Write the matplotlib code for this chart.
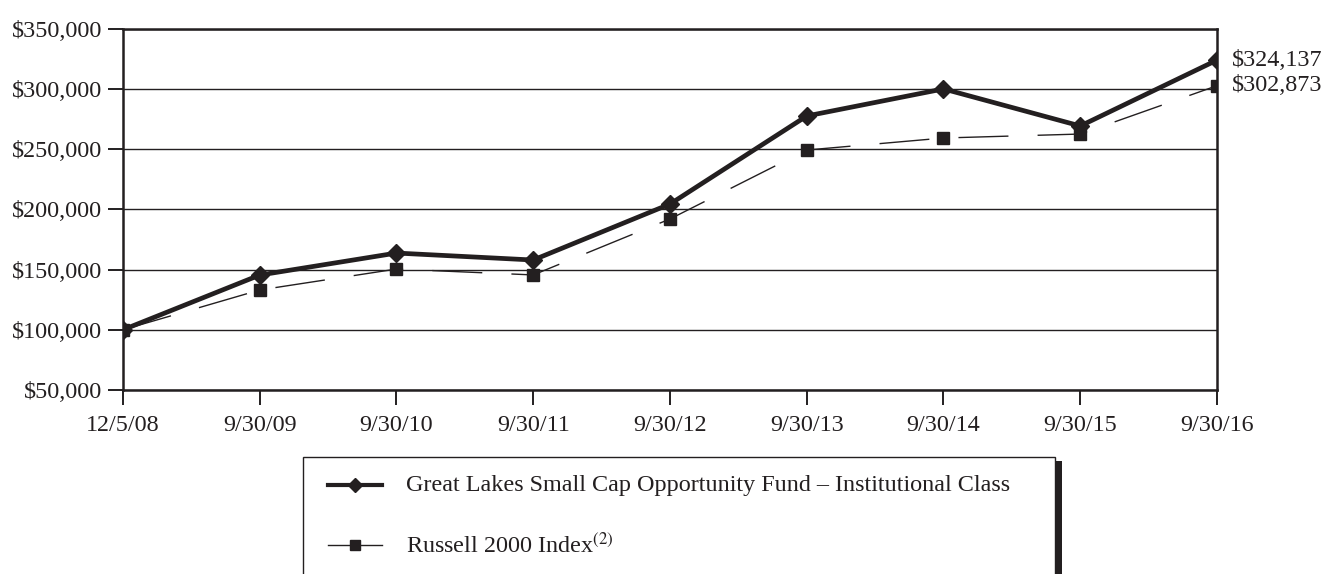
import matplotlib
matplotlib.use("Agg")
import matplotlib.pyplot as plt
from matplotlib.lines import Line2D
from matplotlib.patches import Rectangle
from matplotlib.ticker import FuncFormatter

plt.rcParams['font.family'] = ['Liberation Serif', 'DejaVu Serif']
plt.rcParams['mathtext.fontset'] = 'stix'

dates = ["12/5/08", "9/30/09", "9/30/10", "9/30/11", "9/30/12",
         "9/30/13", "9/30/14", "9/30/15", "9/30/16"]
fund = [100000, 145500, 163800, 158000, 204500, 277700, 300200, 269400, 324137]
russell = [100000, 133100, 150500, 145600, 192100, 249400, 259400, 262700, 302873]
fund_name = "Great Lakes Small Cap Opportunity Fund \u2013 Institutional Class"
index_name = r"Russell 2000 Index$^{(2)}$"

DARK = "#231f20"
FS = 17.4

fig = plt.figure(figsize=(13.25, 5.74), dpi=100)
ax = fig.add_axes([0.0928, 0.3206, 0.8257, 0.6289])

x = list(range(len(dates)))
ax.plot(x, russell, color=DARK, lw=1.0, dashes=(36, 21),
        marker="s", ms=8.5, zorder=3)
ax.plot(x, fund, color=DARK, lw=3.4, marker="D", ms=9, zorder=4)

ax.set_xlim(0, len(dates) - 1)
ax.set_ylim(50000, 350000)
ax.set_yticks(range(50000, 350001, 50000))
ax.yaxis.set_major_formatter(FuncFormatter(lambda v, p: "${:,.0f}".format(v)))
ax.set_xticks(x)
ax.set_xticklabels(dates)
ax.grid(axis="y", color=DARK, lw=1.0)
ax.set_axisbelow(True)
for s in ax.spines.values():
    s.set_color(DARK)
    s.set_linewidth(1.8)
ax.tick_params(axis="both", direction="out", length=11, width=1.4,
               color=DARK, labelsize=FS, labelcolor=DARK)
ax.tick_params(axis="x", pad=7)
ax.tick_params(axis="y", pad=4)

# end values at the right edge
ax.annotate("${:,}".format(fund[-1]), (x[-1], fund[-1]), xytext=(11, 0),
            textcoords="offset points", va="center", ha="left",
            fontsize=FS, color=DARK, annotation_clip=False)
ax.annotate("${:,}".format(russell[-1]), (x[-1], russell[-1]), xytext=(11, 0),
            textcoords="offset points", va="center", ha="left",
            fontsize=FS, color=DARK, annotation_clip=False)

# legend box below the chart, with a heavy shadow edge on the right
W, H = 1325.0, 574.0
box = Rectangle((303 / W, -0.1), (1055 - 303) / W, 0.1 + 1 - 457 / H,
                transform=fig.transFigure, fill=False, ec=DARK, lw=1.0)
fig.add_artist(box)
shadow = Rectangle((1055 / W, -0.1), 7 / W, 0.1 + 1 - 461 / H,
                   transform=fig.transFigure, fc=DARK, ec="none")
fig.add_artist(shadow)

y1 = 1 - 485 / H
y2 = 1 - 545 / H
fig.add_artist(Line2D([328 / W, 382 / W], [y1, y1], color=DARK, lw=3.0,
                      transform=fig.transFigure))
fig.add_artist(Line2D([355 / W], [y1], color=DARK, marker="D", ms=7,
                      transform=fig.transFigure))
fig.add_artist(Line2D([328 / W, 382 / W], [y2, y2], color=DARK, lw=1.0,
                      transform=fig.transFigure))
fig.add_artist(Line2D([355 / W], [y2], color=DARK, marker="s", ms=7,
                      transform=fig.transFigure))
fig.text(406 / W, y1, fund_name, fontsize=FS, color=DARK, va="center")
fig.text(406 / W, y2, index_name, fontsize=FS, color=DARK, va="center")

fig.savefig("out.png", dpi=100)
